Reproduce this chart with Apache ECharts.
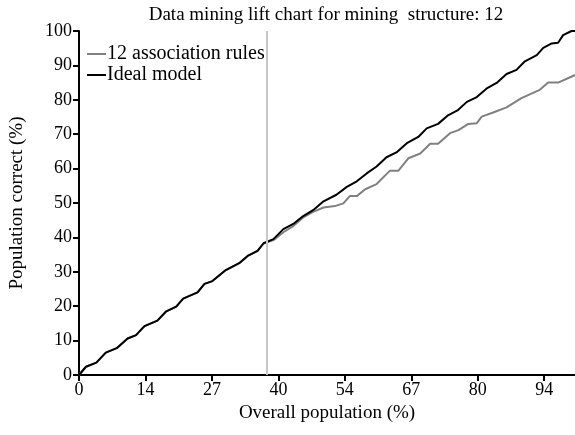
<!DOCTYPE html>
<html>
<head>
<meta charset="utf-8">
<script src="https://cdn.jsdelivr.net/npm/echarts@6/dist/echarts.min.js"></script>
<style>html,body{margin:0;padding:0;background:#fff}#c{width:575px;height:435px}</style>
</head>
<body>
<div id="c"></div>
<script>
var titleText = 'Data mining lift chart for mining  structure: 12';
var seriesNames = ['12 association rules', 'Ideal model'];
var xTickValues = [0, 13.4, 26.8, 40.2, 53.6, 67, 80.4, 93.8];
var xTickLabels = ['0', '14', '27', '40', '54', '67', '80', '94'];
var cutoffX = 37.9;

var idealX = [0,1.4,3.5,5.4,7.6,9.8,11.5,13.2,15.8,17.5,19.6,21.0,23.9,25.3,26.9,29.6,32.3,34.0,36.0,37.2,39.2,41.2,43.2,45.2,47.2,49.3,51.9,54.0,56.0,58.0,60.0,62.0,64.0,66.1,68.4,70.1,72.4,74.4,76.3,78.2,80.2,82.2,84.2,86.2,88.2,89.9,92.3,93.6,95.3,96.6,97.6,99.3,100];
var idealY = [0,2.4,3.6,6.5,7.8,10.6,11.6,14.2,15.8,18.4,19.9,22.2,24.0,26.5,27.3,30.5,32.5,34.6,36.1,38.3,39.5,42.4,43.9,46.2,47.9,50.5,52.4,54.7,56.3,58.6,60.6,63.3,64.7,67.4,69.2,71.7,73.0,75.5,76.9,79.4,80.8,83.3,84.9,87.5,88.7,91.2,93.0,95.1,96.4,96.6,98.8,100,100];

var rulesX = [0,1.4,3.5,5.4,7.6,9.8,11.5,13.2,15.8,17.5,19.6,21.0,23.9,25.3,26.9,29.6,32.3,34.0,36.0,37.2,39.2,41.2,43.2,45.2,47.2,49.3,51.6,53.3,54.6,56.0,57.7,60.0,62.7,64.4,66.4,68.8,70.8,72.4,74.8,76.5,78.5,80.2,81.2,83.5,86.2,89.2,92.9,94.6,96.6,100];
var rulesY = [0,2.4,3.6,6.5,7.8,10.6,11.6,14.2,15.8,18.4,19.9,22.2,24.0,26.5,27.3,30.5,32.5,34.6,36.1,38.2,39.2,41.5,43.3,45.8,47.4,48.7,49.1,49.9,52.0,52.0,54.0,55.5,59.4,59.4,63.0,64.4,67.2,67.2,70.3,71.2,73.0,73.2,75.1,76.3,77.8,80.5,82.9,85.0,85.0,87.2];

function zip(a, b) { return a.map(function (v, i) { return [v, b[i]]; }); }

var font = 'Liberation Serif';
var chart = echarts.init(document.getElementById('c'), null, {renderer: 'canvas'});
chart.setOption({
  animation: false,
  backgroundColor: '#fff',
  textStyle: {fontFamily: font, color: '#000'},
  title: {
    text: titleText, left: 321, top: 1, textAlign: 'center',
    textStyle: {fontFamily: font, fontSize: 19, fontWeight: 'normal', color: '#000'}
  },
  legend: {
    orient: 'vertical', left: 82, top: 39, itemGap: 1,
    itemWidth: 19, itemHeight: 2,
    textStyle: {fontFamily: font, fontSize: 20, color: '#000', padding: [0, 0, 0, -4]},
    data: seriesNames.map(function (n) { return {name: n, icon: 'rect'}; })
  },
  grid: {left: 79, right: 0, top: 31, bottom: 60, containLabel: false},
  xAxis: {
    type: 'value', min: 0, max: 100,
    name: 'Overall population (%)', nameLocation: 'middle', nameGap: 24,
    nameTextStyle: {fontFamily: font, fontSize: 19, color: '#000'},
    axisLine: {lineStyle: {color: '#000', width: 2}},
    axisTick: {show: true, length: 6, lineStyle: {color: '#000', width: 2}, customValues: xTickValues},
    axisLabel: {
      fontFamily: font, fontSize: 18, color: '#000', margin: 6,
      customValues: xTickValues,
      formatter: function (v) {
        for (var i = 0; i < xTickValues.length; i++) if (Math.abs(v - xTickValues[i]) < 1e-6) return xTickLabels[i];
        return '';
      }
    },
    splitLine: {show: false}
  },
  yAxis: {
    type: 'value', min: 0, max: 100, interval: 10,
    name: 'Population correct (%)', nameLocation: 'middle', nameGap: 52,
    nameTextStyle: {fontFamily: font, fontSize: 19, color: '#000'},
    axisLine: {show: true, lineStyle: {color: '#000', width: 2}},
    axisTick: {show: true, length: 6, lineStyle: {color: '#000', width: 2}},
    axisLabel: {fontFamily: font, fontSize: 18, color: '#000', margin: 7},
    splitLine: {show: false}
  },
  series: [
    {
      name: seriesNames[0], type: 'line', data: zip(rulesX, rulesY),
      symbol: 'none', lineStyle: {color: '#808080', width: 2}, itemStyle: {color: '#808080'},
      markLine: {
        silent: true, symbol: 'none', label: {show: false},
        lineStyle: {color: '#c8c8c8', width: 2, type: 'solid'},
        data: [{xAxis: cutoffX}]
      },
      z: 2
    },
    {
      name: seriesNames[1], type: 'line', data: zip(idealX, idealY),
      symbol: 'none', lineStyle: {color: '#000', width: 2}, itemStyle: {color: '#000'},
      z: 3
    }
  ]
});
</script>
</body>
</html>
